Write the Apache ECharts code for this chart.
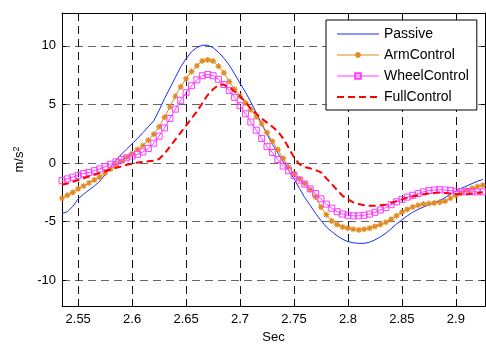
<!DOCTYPE html>
<html>
<head>
<meta charset="utf-8">
<script src="https://cdn.jsdelivr.net/npm/echarts@6/dist/echarts.min.js"></script>
<style>
  html, body { margin: 0; padding: 0; background: #fff; }
  #chart { width: 486px; height: 349px; }
</style>
</head>
<body>
<div id="chart"></div>
<script>
// time axis (sec) - samples every 5 ms
const times = [
  2.535, 2.54, 2.545, 2.55, 2.555, 2.56, 2.565, 2.57, 2.575, 2.58,
  2.585, 2.59, 2.595, 2.6, 2.605, 2.61, 2.615, 2.62, 2.625, 2.63,
  2.635, 2.64, 2.645, 2.65, 2.655, 2.66, 2.665, 2.67, 2.675, 2.68,
  2.685, 2.69, 2.695, 2.7, 2.705, 2.71, 2.715, 2.72, 2.725, 2.73,
  2.735, 2.74, 2.745, 2.75, 2.755, 2.76, 2.765, 2.77, 2.775, 2.78,
  2.785, 2.79, 2.795, 2.8, 2.805, 2.81, 2.815, 2.82, 2.825, 2.83,
  2.835, 2.84, 2.845, 2.85, 2.855, 2.86, 2.865, 2.87, 2.875, 2.88,
  2.885, 2.89, 2.895, 2.9, 2.905, 2.91, 2.915, 2.92, 2.925
];

const passive = [
  -4.3, -4.15, -3.7, -3.05, -2.65, -2.3, -1.95, -1.55, -1.0, -0.35,
  0.25, 0.75, 1.2, 1.65, 2.1, 2.6, 3.1, 3.6, 4.5, 5.5,
  6.4, 7.3, 8.2, 8.9, 9.5, 9.85, 10.05, 10.05, 9.85, 9.45,
  8.95, 8.35, 7.6, 6.8, 6.05, 5.2, 4.3, 3.35, 2.45, 1.6,
  0.85, 0.15, -0.6, -1.35, -2.15, -2.95, -3.6, -4.3, -4.9, -5.45,
  -5.85, -6.2, -6.5, -6.7, -6.8, -6.85, -6.85, -6.75, -6.55, -6.3,
  -6.0, -5.6, -5.2, -4.85, -4.5, -4.2, -3.95, -3.75, -3.55, -3.4,
  -3.2, -2.95, -2.65, -2.4, -2.15, -1.95, -1.75, -1.55, -1.4
];

const armControl = [
  -3.0, -2.75, -2.5, -2.2, -1.95, -1.7, -1.45, -1.2, -0.85, -0.5,
  -0.15, 0.15, 0.5, 0.8, 1.15, 1.5, 1.95, 2.45, 3.1, 3.9,
  4.8, 5.7, 6.5, 7.2, 7.8, 8.3, 8.7, 8.8, 8.7, 8.25,
  7.7, 6.95, 6.3, 5.7, 5.15, 4.55, 3.95, 3.35, 2.6, 1.85,
  1.15, 0.4, -0.35, -0.9, -1.35, -1.75, -2.25, -2.9, -3.75, -4.4,
  -4.95, -5.25, -5.45, -5.55, -5.65, -5.7, -5.65, -5.55, -5.4, -5.25,
  -5.05, -4.8, -4.5, -4.2, -3.95, -3.75, -3.6, -3.5, -3.45, -3.4,
  -3.35, -3.25, -3.0, -2.75, -2.5, -2.3, -2.15, -2.0, -1.9
];

const wheelControl = [
  -1.5, -1.35, -1.2, -1.05, -0.9, -0.8, -0.65, -0.5, -0.3, -0.1,
  0.1, 0.3, 0.45, 0.6, 0.75, 0.95, 1.25, 1.7, 2.3, 3.0,
  3.8, 4.6, 5.35, 6.0, 6.6, 7.1, 7.45, 7.55, 7.45, 7.15,
  6.7, 6.2, 5.6, 4.9, 4.2, 3.5, 2.8, 2.1, 1.4, 0.9,
  0.3, -0.25, -0.65, -1.05, -1.45, -1.8, -2.2, -2.6, -3.05, -3.5,
  -3.85, -4.15, -4.35, -4.45, -4.5, -4.5, -4.45, -4.35, -4.2, -4.0,
  -3.8, -3.55, -3.3, -3.1, -2.9, -2.75, -2.6, -2.45, -2.35, -2.3,
  -2.27, -2.3, -2.35, -2.4, -2.45, -2.45, -2.45, -2.45, -2.45
];

const fullControl = [
  -1.85, -1.75, -1.6, -1.45, -1.3, -1.15, -1.0, -0.85, -0.7, -0.55,
  -0.4, -0.3, -0.15, -0.05, 0.05, 0.1, 0.15, 0.2, 0.35, 0.8,
  1.4, 2.0, 2.6, 3.2, 3.8, 4.4, 5.1, 5.8, 6.3, 6.65,
  6.7, 6.45, 6.1, 5.7, 5.2, 4.65, 4.2, 3.8, 3.45, 3.1,
  2.7, 2.1, 1.3, 0.5, -0.1, -0.35, -0.45, -0.6, -0.8, -1.3,
  -1.8, -2.3, -2.8, -3.1, -3.35, -3.5, -3.6, -3.65, -3.65, -3.6,
  -3.55, -3.4, -3.25, -3.1, -2.95, -2.85, -2.75, -2.65, -2.6, -2.55,
  -2.5, -2.55, -2.6, -2.65, -2.65, -2.65, -2.6, -2.55, -2.5
];

const xTicks = [2.55, 2.6, 2.65, 2.7, 2.75, 2.8, 2.85, 2.9];
const yTicks = [-10, -5, 0, 5, 10];

const font = "'Liberation Sans', Arial, sans-serif";
const starPath = "path://M5 0V10M0 5H10M1.5 1.5L8.5 8.5M8.5 1.5L1.5 8.5";

function pairs(vals) {
  return times.map((t, i) => [t, vals[i]]);
}

const chart = echarts.init(document.getElementById("chart"), null, { renderer: "canvas" });

const xBase = {
  type: "value",
  min: 2.535,
  max: 2.927,
  axisLine: { show: true, onZero: false, lineStyle: { color: "#000", width: 1 } },
  axisTick: { show: true, inside: true, length: 4, customValues: xTicks, lineStyle: { color: "#000" } },
  axisLabel: { show: false, customValues: xTicks },
  splitLine: { show: false },
};
const yBase = {
  type: "value",
  min: -12.2,
  max: 12.8,
  axisLine: { show: true, onZero: false, lineStyle: { color: "#000", width: 1 } },
  axisTick: { show: true, inside: true, length: 4, customValues: yTicks, lineStyle: { color: "#000" } },
  axisLabel: { show: false, customValues: yTicks },
  splitLine: { show: false },
};

const option = {
  animation: false,
  backgroundColor: "#fff",
  textStyle: { fontFamily: font },
  grid: { left: 62, right: 1, top: 13, bottom: 36, containLabel: false },
  legend: {
    orient: "vertical",
    left: 326,
    top: 20,
    padding: [7, 8, 6, 10],
    itemGap: 7,
    itemWidth: 42,
    itemHeight: 7,
    backgroundColor: "#fff",
    borderColor: "#000",
    borderWidth: 1,
    borderRadius: 0,
    textStyle: { fontFamily: font, fontSize: 14, color: "#000" },
    data: [
      { name: "Passive", itemStyle: { opacity: 0 }, lineStyle: { width: 1 } },
      { name: "ArmControl", lineStyle: { width: 1 } },
      { name: "WheelControl", lineStyle: { width: 1 } },
      { name: "FullControl", itemStyle: { opacity: 0 }, lineStyle: { width: 2 } },
    ],
  },
  xAxis: [
    Object.assign({}, xBase, {
      position: "bottom",
      name: "Sec",
      nameLocation: "middle",
      nameGap: 23,
      nameTextStyle: { fontFamily: font, fontSize: 13, color: "#000" },
      axisLabel: { show: true, customValues: xTicks, margin: 7, fontFamily: font, fontSize: 13, color: "#000" },
      splitLine: {
        show: true,
        lineStyle: { color: "#111", width: 1, type: [8, 5] },
      },
    }),
    Object.assign({}, xBase, { position: "top" }),
  ],
  yAxis: [
    Object.assign({}, yBase, {
      position: "left",
      name: "m/s{sup|2}",
      nameLocation: "middle",
      nameGap: 30,
      nameTextStyle: {
        fontFamily: font,
        fontSize: 13,
        color: "#000",
        rich: { sup: { fontFamily: font, fontSize: 9, color: "#000", verticalAlign: "top", padding: [0, 0, 7, 0] } },
      },
      axisLabel: { show: true, customValues: yTicks, margin: 6, fontFamily: font, fontSize: 13, color: "#000" },
      splitLine: {
        show: true,
        lineStyle: { color: "#666", width: 1, type: [8, 5] },
      },
    }),
    Object.assign({}, yBase, { position: "right" }),
  ],
  series: [
    {
      name: "Passive",
      type: "line",
      data: pairs(passive),
      showSymbol: false,
      symbol: "none",
      lineStyle: { color: "#1a2cff", width: 1 },
      itemStyle: { color: "#1a2cff" },
      z: 3,
    },
    {
      name: "ArmControl",
      type: "line",
      data: pairs(armControl),
      symbol: starPath,
      symbolSize: 6,
      lineStyle: { color: "#e08a20", width: 1 },
      itemStyle: { color: "none", borderColor: "#e08a20", borderWidth: 1.2 },
      z: 4,
    },
    {
      name: "WheelControl",
      type: "line",
      data: pairs(wheelControl),
      symbol: "rect",
      symbolSize: 6,
      lineStyle: { color: "#ff3cff", width: 1 },
      itemStyle: { color: "rgba(255,255,255,0)", borderColor: "#ff3cff", borderWidth: 1 },
      z: 5,
    },
    {
      name: "FullControl",
      type: "line",
      data: pairs(fullControl),
      showSymbol: false,
      symbol: "none",
      lineStyle: { color: "#ff0000", width: 2, type: [7, 4] },
      itemStyle: { color: "#ff0000" },
      z: 6,
    },
  ],
};

chart.setOption(option);
</script>
</body>
</html>
